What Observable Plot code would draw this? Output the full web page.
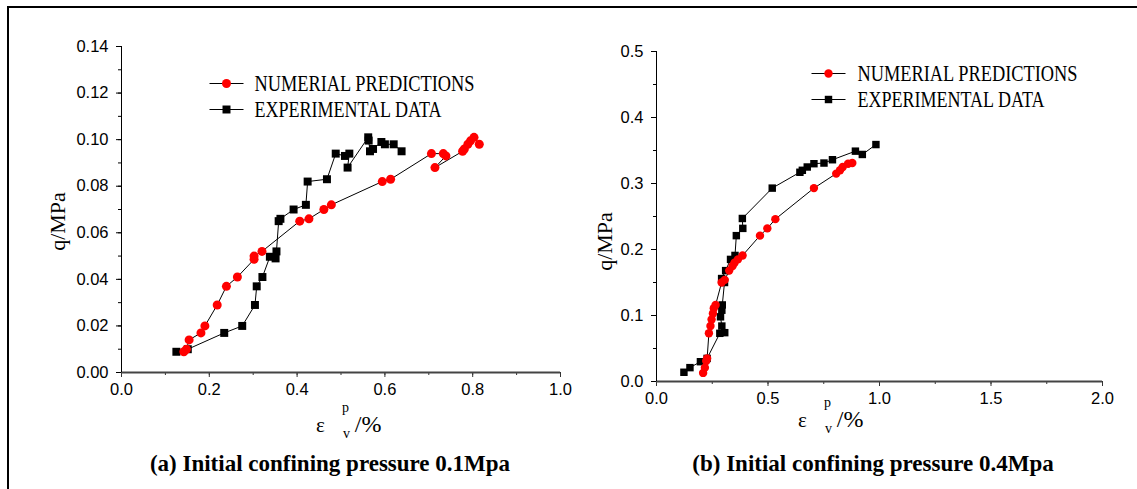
<!DOCTYPE html>
<html>
<head>
<meta charset="utf-8">
<script src="https://cdn.jsdelivr.net/npm/d3@7"></script>
<script src="https://cdn.jsdelivr.net/npm/@observablehq/plot@0.6"></script>
<style>
  body { margin: 0; background: #fff; }
  #wrap { position: relative; width: 1137px; height: 489px; overflow: hidden; background: #fff; }
  #frame { position: absolute; left: 7px; top: 6px; width: 1300px; height: 700px; border: 2px solid #000; box-sizing: border-box; }
  .panel { position: absolute; top: 0; }
  .xlab { position: absolute; font-family: "Liberation Serif", serif; font-size: 21px; color: #000; white-space: nowrap; }
  .xlab .sup { position: absolute; font-size: 14px; }
  .xlab .sub { position: absolute; font-size: 14px; }
  .xlab .pct { font-size: 24px; }
  .cap { position: absolute; font-family: "Liberation Serif", serif; font-weight: bold; font-size: 23px; color: #000; white-space: nowrap; transform: translateX(-50%); }
</style>
</head>
<body>
<div id="wrap">
  <div id="frame"></div>
  <div id="pa" class="panel" style="left:0px"></div>
  <div id="pb" class="panel" style="left:580px"></div>
  <div class="xlab" style="left:316px; top:411px;">ε<span class="sup" style="left:26px; top:-11px;">p</span><span class="sub" style="left:27px; top:15px;">v</span><span class="pct" style="margin-left:30px">/%</span></div>
  <div class="xlab" style="left:798px; top:406px;">ε<span class="sup" style="left:26px; top:-11px;">p</span><span class="sub" style="left:27px; top:15px;">v</span><span class="pct" style="margin-left:30px">/%</span></div>
  <div class="cap" style="left:330px; top:451px;">(a) Initial confining pressure 0.1Mpa</div>
  <div class="cap" style="left:873px; top:451px;">(b) Initial confining pressure 0.4Mpa</div>
</div>
<script>
// ---- Panel (a): initial confining pressure 0.1 MPa ----
const aNumX = [0.142,0.148,0.154,0.181,0.190,0.218,0.239,0.264,0.302,0.302,0.320,0.406,0.427,0.461,0.478,0.594,0.613,0.706,0.733,0.739,0.714,0.777,0.781,0.789,0.795,0.803,0.815];
const aNumY = [0.0089,0.010,0.014,0.017,0.020,0.029,0.037,0.041,0.0486,0.050,0.052,0.065,0.066,0.070,0.072,0.082,0.083,0.094,0.094,0.093,0.088,0.095,0.096,0.098,0.0995,0.101,0.098];
const aExpX = [0.125,0.151,0.234,0.275,0.304,0.308,0.321,0.338,0.351,0.353,0.358,0.362,0.392,0.420,0.424,0.468,0.488,0.509,0.519,0.515,0.562,0.563,0.566,0.573,0.592,0.600,0.620,0.638];
const aExpY = [0.0089,0.010,0.017,0.020,0.029,0.037,0.041,0.0497,0.049,0.052,0.065,0.066,0.070,0.072,0.082,0.083,0.094,0.093,0.094,0.088,0.101,0.0996,0.095,0.096,0.099,0.098,0.098,0.095];

// ---- Panel (b): initial confining pressure 0.4 MPa ----
const bNumX = [0.209,0.217,0.223,0.227,0.235,0.242,0.247,0.253,0.257,0.265,0.292,0.306,0.326,0.341,0.350,0.365,0.386,0.464,0.497,0.533,0.706,0.806,0.823,0.835,0.859,0.878];
const bNumY = [0.013,0.021,0.031,0.035,0.073,0.084,0.094,0.103,0.111,0.116,0.150,0.154,0.168,0.175,0.180,0.185,0.191,0.221,0.232,0.246,0.293,0.315,0.320,0.325,0.330,0.331];
const bExpX = [0.123,0.150,0.197,0.227,0.284,0.306,0.293,0.287,0.293,0.295,0.305,0.292,0.310,0.332,0.352,0.358,0.387,0.385,0.519,0.643,0.654,0.676,0.706,0.751,0.789,0.892,0.923,0.984];
const bExpY = [0.014,0.021,0.030,0.035,0.073,0.074,0.084,0.098,0.108,0.116,0.150,0.156,0.168,0.185,0.191,0.221,0.232,0.247,0.293,0.317,0.320,0.325,0.330,0.331,0.336,0.349,0.344,0.359];

const seriesNames = ["NUMERIAL PREDICTIONS", "EXPERIMENTAL DATA"];
const aXTicks = [0, 0.2, 0.4, 0.6, 0.8, 1.0];
const aYTicks = [0, 0.02, 0.04, 0.06, 0.08, 0.10, 0.12, 0.14];
const bXTicks = [0, 0.5, 1.0, 1.5, 2.0];
const bYTicks = [0, 0.1, 0.2, 0.3, 0.4, 0.5];

const pts = (xs, ys) => xs.map((x, i) => ({x, y: ys[i]}));

// custom legend line-segment symbol
const segSymbol = { draw(ctx) { ctx.moveTo(-17, 0); ctx.lineTo(17, 0); } };
const legFont = "'Liberation Serif', 'Times New Roman', serif";

function panel(opt) {
  const num = pts(opt.numX, opt.numY), exp = pts(opt.expX, opt.expY);
  const xMinor = d3.range(0, opt.xmax + 1e-9, opt.xminor);
  const yMinor = d3.range(0, opt.ymax + 1e-9, opt.yminor);
  const fs = 16.5;
  const leg = [
    {name: seriesNames[0], dy: opt.legDy, color: "#ff0000", sym: "circle"},
    {name: seriesNames[1], dy: opt.legDy + opt.legGap, color: "#000", sym: "square"}
  ];
  return Plot.plot({
    width: opt.width, height: 440,
    marginLeft: opt.ml, marginRight: opt.width - opt.ml - opt.fw, marginTop: opt.mt, marginBottom: 440 - opt.mt - opt.fh,
    style: {fontFamily: "'Liberation Sans', Arial, sans-serif", fontSize: fs + "px", color: "#000", background: "transparent", overflow: "visible"},
    x: {domain: [0, opt.xmax]},
    y: {domain: [0, opt.ymax]},
    marks: [
      Plot.axisX(xMinor, {tickSize: 3, text: null, stroke: "#333", label: null}),
      Plot.axisY(yMinor, {tickSize: 3, text: null, stroke: "#000", label: null}),
      Plot.axisX(opt.xTicks, {tickSize: 5, tickPadding: 6, tickFormat: d3.format(".1f"), stroke: "#333", fontSize: fs, label: null}),
      Plot.axisY(opt.yTicks, {tickSize: 5, tickPadding: 8, tickFormat: d3.format(opt.yfmt), stroke: "#000", fontSize: fs, label: null}),
      Plot.ruleY([0], {stroke: "#444", strokeWidth: 2}),
      Plot.ruleX([0], {stroke: "#000", strokeWidth: 1}),
      Plot.text(["q/MPa"], {frameAnchor: "left", dx: opt.ylabDx, dy: opt.ylabDy, rotate: -90, textAnchor: "middle", lineAnchor: "middle",
        fontFamily: "'Liberation Serif', serif", fontSize: 22, fill: "#000"}),
      Plot.line(exp, {x: "x", y: "y", stroke: "#000", strokeWidth: 1}),
      Plot.line(num, {x: "x", y: "y", stroke: "#000", strokeWidth: 1}),
      Plot.dot(exp, {x: "x", y: "y", symbol: "square", r: opt.r, fill: "#000"}),
      Plot.dot(num, {x: "x", y: "y", symbol: "circle", r: opt.r, fill: "#ff0000"}),
      // legend
      ...leg.map(l => Plot.dot([l], {frameAnchor: "top-left", dx: opt.legDx, dy: l.dy, symbol: segSymbol, stroke: "#000", strokeWidth: 1, fill: "none", r: 1})),
      ...leg.map(l => Plot.dot([l], {frameAnchor: "top-left", dx: opt.legDx, dy: l.dy, symbol: l.sym, r: opt.r, fill: l.color, stroke: "none"})),
      ...leg.map(l => Plot.text([l.name], {frameAnchor: "top-left", dx: opt.legTx, dy: l.dy, textAnchor: "start", lineAnchor: "middle",
        fontFamily: legFont, fontSize: 23, fill: "#000", className: "legtext"}))
    ]
  });
}

const A = panel({numX: aNumX, numY: aNumY, expX: aExpX, expY: aExpY, width: 600, ml: 121, fw: 439, mt: 46, fh: 326,
  xmax: 1.0, ymax: 0.14, xminor: 0.1, yminor: 0.01, xTicks: aXTicks, yTicks: aYTicks, yfmt: ".2f", r: 4.5,
  ylabDx: -64, ylabDy: 12, legDx: 105, legTx: 133, legDy: 37, legGap: 26});
const B = panel({numX: bNumX, numY: bNumY, expX: bExpX, expY: bExpY, width: 557, ml: 76, fw: 446, mt: 51, fh: 330,
  xmax: 2.0, ymax: 0.5, xminor: 0.25, yminor: 0.05, xTicks: bXTicks, yTicks: bYTicks, yfmt: ".1f", r: 4.2,
  ylabDx: -52, ylabDy: 25, legDx: 172, legTx: 201, legDy: 22, legGap: 26});

document.getElementById("pa").appendChild(A);
document.getElementById("pb").appendChild(B);

// squeeze legend text to the reference's narrow glyph width
for (const svg of [A, B]) {
  d3.select(svg).selectAll("g.legtext text").each(function() {
    const t = this.textContent;
    this.setAttribute("textLength", t.length * 11);
    this.setAttribute("lengthAdjust", "spacingAndGlyphs");
  });
}
</script>
</body>
</html>
